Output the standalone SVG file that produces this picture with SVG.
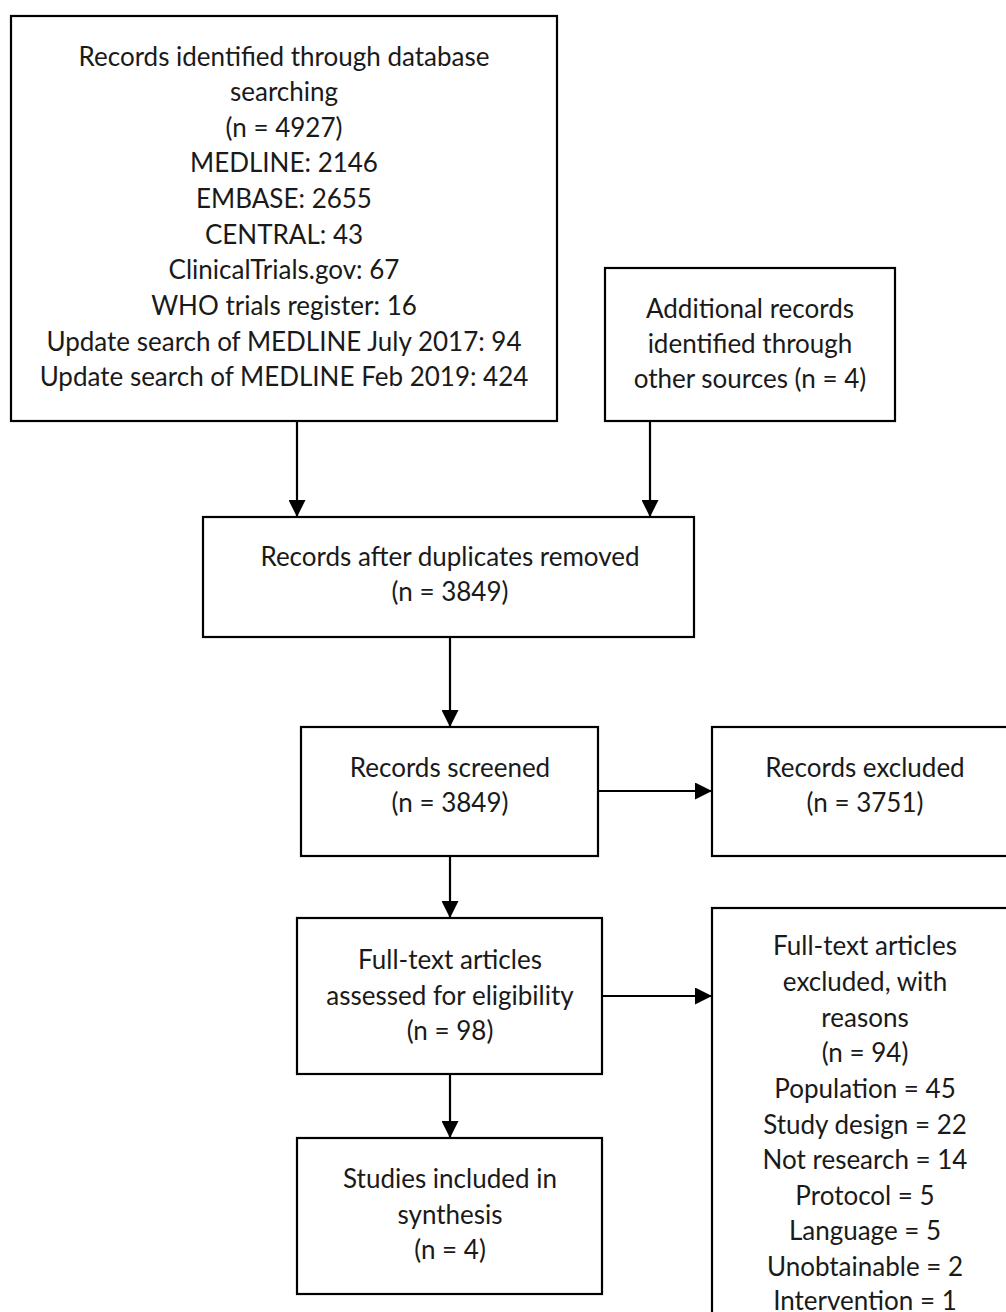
<svg xmlns="http://www.w3.org/2000/svg" width="1006" height="1312" viewBox="0 0 1006 1312">
<style>
.box{fill:#fff;stroke:#000;stroke-width:2.2}
.t{font-family:Lato,"Liberation Sans",sans-serif;font-size:26px;fill:#1a1a1a;text-anchor:middle}
.c{stroke:#000;stroke-width:2.2;fill:none}
</style>
<defs>
<marker id="ah" markerUnits="userSpaceOnUse" markerWidth="17" markerHeight="17" viewBox="0 0 17 17" refX="17" refY="8.5" orient="auto">
<path d="M0,0 L17,8.5 L0,17 z" fill="#000"/>
</marker>
</defs>
<rect width="1006" height="1312" fill="#fff"/>
<g id="connectors">
<line class="c" x1="297" y1="421" x2="297" y2="517" marker-end="url(#ah)"/>
<line class="c" x1="650" y1="421" x2="650" y2="517" marker-end="url(#ah)"/>
<line class="c" x1="450" y1="638" x2="450" y2="727" marker-end="url(#ah)"/>
<line class="c" x1="598" y1="791" x2="712" y2="791" marker-end="url(#ah)"/>
<line class="c" x1="450" y1="856" x2="450" y2="918" marker-end="url(#ah)"/>
<line class="c" x1="602" y1="996" x2="712" y2="996" marker-end="url(#ah)"/>
<line class="c" x1="450" y1="1074" x2="450" y2="1138" marker-end="url(#ah)"/>
</g>
<g id="n1">
<rect class="box" x="11" y="16" width="546" height="405"/>
<text class="t" x="284" y="66">Records identified through database</text>
<text class="t" x="284" y="101">searching</text>
<text class="t" x="284" y="137">(n = 4927)</text>
<text class="t" x="284" y="172">MEDLINE: 2146</text>
<text class="t" x="284" y="208">EMBASE: 2655</text>
<text class="t" x="284" y="244">CENTRAL: 43</text>
<text class="t" x="284" y="279">ClinicalTrials.gov: 67</text>
<text class="t" x="284" y="315">WHO trials register: 16</text>
<text class="t" x="284" y="351">Update search of MEDLINE July 2017: 94</text>
<text class="t" x="284" y="386">Update search of MEDLINE Feb 2019: 424</text>
</g>
<g id="n2">
<rect class="box" x="605" y="268" width="290" height="153"/>
<text class="t" x="750" y="318">Additional records</text>
<text class="t" x="750" y="353">identified through</text>
<text class="t" x="750" y="388">other sources (n = 4)</text>
</g>
<g id="n3">
<rect class="box" x="203" y="517" width="491" height="120"/>
<text class="t" x="450" y="566">Records after duplicates removed</text>
<text class="t" x="450" y="601">(n = 3849)</text>
</g>
<g id="n4">
<rect class="box" x="301" y="727" width="297" height="129"/>
<text class="t" x="450" y="777">Records screened</text>
<text class="t" x="450" y="812">(n = 3849)</text>
</g>
<g id="n5">
<rect class="box" x="712" y="727" width="300" height="129"/>
<text class="t" x="865" y="777">Records excluded</text>
<text class="t" x="865" y="812">(n = 3751)</text>
</g>
<g id="n6">
<rect class="box" x="297" y="918" width="305" height="156"/>
<text class="t" x="450" y="969">Full-text articles</text>
<text class="t" x="450" y="1005">assessed for eligibility</text>
<text class="t" x="450" y="1040">(n = 98)</text>
</g>
<g id="n7">
<rect class="box" x="712" y="908" width="300" height="410"/>
<text class="t" x="865" y="955">Full-text articles</text>
<text class="t" x="865" y="991">excluded, with</text>
<text class="t" x="865" y="1027">reasons</text>
<text class="t" x="865" y="1062">(n = 94)</text>
<text class="t" x="865" y="1098">Population = 45</text>
<text class="t" x="865" y="1134">Study design = 22</text>
<text class="t" x="865" y="1169">Not research = 14</text>
<text class="t" x="865" y="1205">Protocol = 5</text>
<text class="t" x="865" y="1240">Language = 5</text>
<text class="t" x="865" y="1276">Unobtainable = 2</text>
<text class="t" x="865" y="1310">Intervention = 1</text>
</g>
<g id="n8">
<rect class="box" x="297" y="1138" width="305" height="156"/>
<text class="t" x="450" y="1188">Studies included in</text>
<text class="t" x="450" y="1224">synthesis</text>
<text class="t" x="450" y="1259">(n = 4)</text>
</g>
</svg>
